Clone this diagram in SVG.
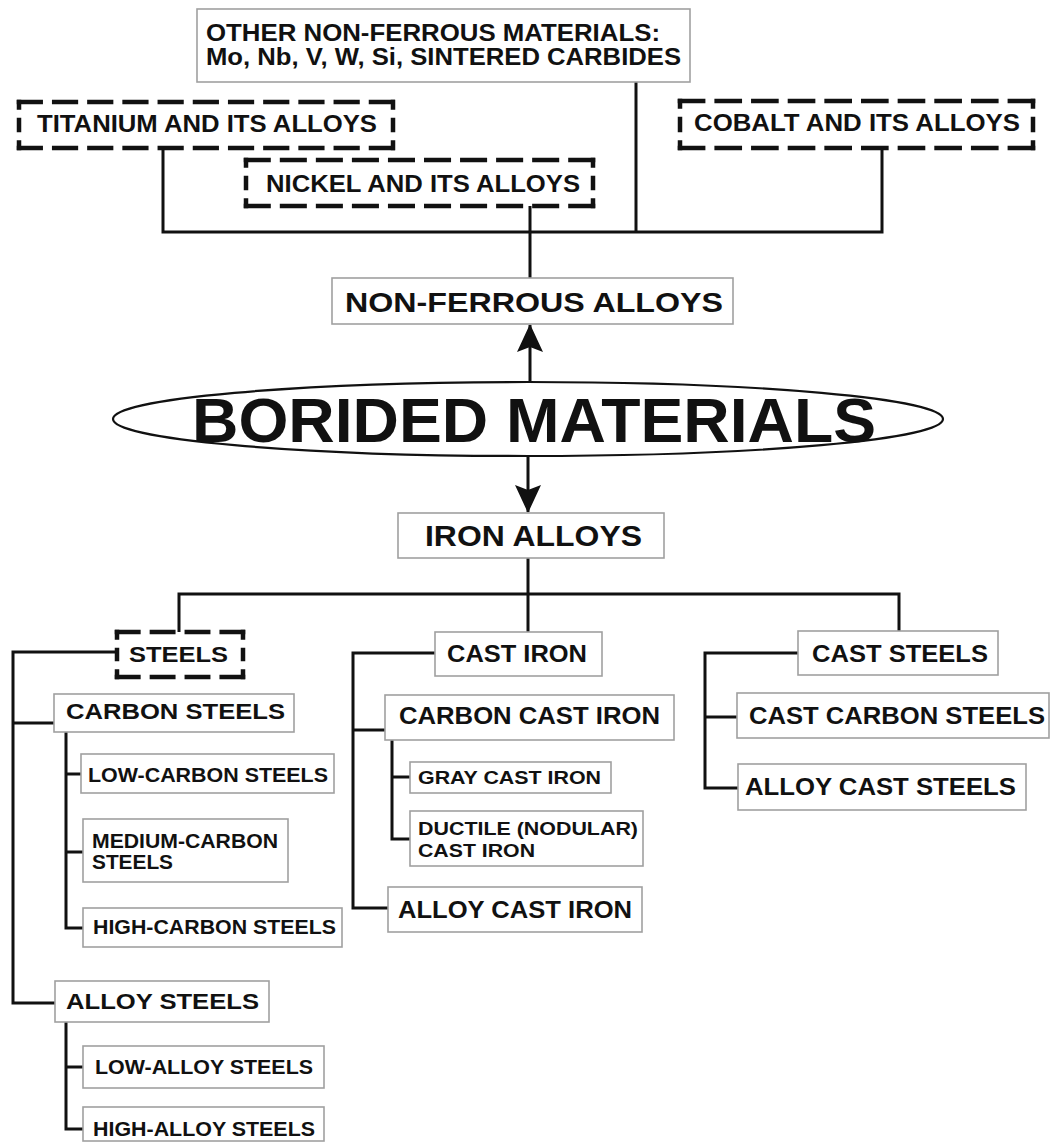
<svg xmlns="http://www.w3.org/2000/svg" width="1051" height="1144" viewBox="0 0 1051 1144">
<style>
.box{fill:#fff;stroke:#a0a0a0;stroke-width:1.6}
.dfill{fill:#fff}
.d{fill:none;stroke:#111;stroke-width:4.5;stroke-linecap:butt}
.t{font-family:"Liberation Sans",Arial,sans-serif;font-weight:bold;fill:#111}
.c{fill:none;stroke:#111;stroke-width:3}
</style>
<defs>
<marker id="ah" markerUnits="userSpaceOnUse" markerWidth="28" markerHeight="26" viewBox="0 0 28 26" refX="27" refY="13" orient="auto">
<path d="M0,0 L28,13 L0,26 L5,13 Z" fill="#111"/>
</marker>
</defs>
<rect width="1051" height="1144" fill="#fff"/>
<g id="connectors">
<path class="c" d="M163,148 V232 H882 V148"/>
<path class="c" d="M636,82 V232"/>
<path class="c" d="M530,206 V278"/>
<path class="c" d="M530,383 V325" marker-end="url(#ah)"/>
<path class="c" d="M528,455 V512" marker-end="url(#ah)"/>
<path class="c" d="M528,558 V632"/>
<path class="c" d="M179,632 V594 H899 V631"/>
<path class="c" d="M117,652 H13 V1003 H55"/>
<path class="c" d="M13,723 H54"/>
<path class="c" d="M66,732 V928 H83"/>
<path class="c" d="M66,774 H81"/>
<path class="c" d="M66,852 H83"/>
<path class="c" d="M66,1022 V1129 H83"/>
<path class="c" d="M66,1067 H83"/>
<path class="c" d="M435,653 H353 V908 H388"/>
<path class="c" d="M353,730 H385"/>
<path class="c" d="M392,740 V839 H410"/>
<path class="c" d="M392,777 H410"/>
<path class="c" d="M798,653 H705 V788 H738"/>
<path class="c" d="M705,717 H737"/>
</g>
<g id="other">
<rect class="box" x="197" y="9" width="493" height="73"/>
<text class="t" x="206" y="41" font-size="23" textLength="454" lengthAdjust="spacingAndGlyphs">OTHER NON-FERROUS MATERIALS:</text>
<text class="t" x="206" y="65" font-size="23" textLength="475" lengthAdjust="spacingAndGlyphs">Mo, Nb, V, W, Si, SINTERED CARBIDES</text>
</g>
<g id="titanium">
<rect class="dfill" x="19" y="102" width="374" height="46"/>
<path class="d" d="M16.75,102 H395.25 M16.75,148 H395.25" stroke-dasharray="26.2 9"/>
<path class="d" d="M19,99.75 V150.25 M393,99.75 V150.25" stroke-dasharray="10 8 14.5 8 10"/>
<text class="t" x="37" y="132" font-size="23" textLength="340" lengthAdjust="spacingAndGlyphs">TITANIUM AND ITS ALLOYS</text>
</g>
<g id="nickel">
<rect class="dfill" x="246" y="160" width="347" height="46"/>
<path class="d" d="M243.75,160 H595.25 M243.75,206 H595.25" stroke-dasharray="27.05 9"/>
<path class="d" d="M246,157.75 V208.25 M593,157.75 V208.25" stroke-dasharray="10 8 14.5 8 10"/>
<text class="t" x="266" y="192" font-size="23" textLength="314" lengthAdjust="spacingAndGlyphs">NICKEL AND ITS ALLOYS</text>
</g>
<g id="cobalt">
<rect class="dfill" x="680" y="101" width="353" height="47"/>
<path class="d" d="M677.75,101 H1035.25 M677.75,148 H1035.25" stroke-dasharray="27.65 9"/>
<path class="d" d="M680,98.75 V150.25 M1033,98.75 V150.25" stroke-dasharray="10 8 15.5 8 10"/>
<text class="t" x="694" y="131" font-size="23" textLength="326" lengthAdjust="spacingAndGlyphs">COBALT AND ITS ALLOYS</text>
</g>
<g id="nonferrous">
<rect class="box" x="332" y="278" width="401" height="46"/>
<text class="t" x="345" y="312" font-size="28" textLength="378" lengthAdjust="spacingAndGlyphs">NON-FERROUS ALLOYS</text>
</g>
<g id="borided">
<ellipse cx="528" cy="419" rx="415" ry="37" fill="#fff" stroke="#111" stroke-width="2.2"/>
<text class="t" x="192" y="442" font-size="63" textLength="684" lengthAdjust="spacingAndGlyphs">BORIDED MATERIALS</text>
</g>
<g id="iron">
<rect class="box" x="398" y="513" width="266" height="45"/>
<text class="t" x="425" y="546" font-size="29" textLength="217" lengthAdjust="spacingAndGlyphs">IRON ALLOYS</text>
</g>
<g id="steels">
<rect class="dfill" x="117" y="632" width="126" height="45"/>
<path class="d" d="M114.75,632 H245.25 M114.75,677 H245.25" stroke-dasharray="25.9 9"/>
<path class="d" d="M117,629.75 V679.25 M243,629.75 V679.25" stroke-dasharray="10 8 13.5 8 10"/>
<text class="t" x="129" y="662" font-size="22" textLength="99" lengthAdjust="spacingAndGlyphs">STEELS</text>
</g>
<g id="carbonsteels">
<rect class="box" x="54" y="694" width="240" height="38"/>
<text class="t" x="66" y="719" font-size="22" textLength="219" lengthAdjust="spacingAndGlyphs">CARBON STEELS</text>
</g>
<g id="lowcarbon">
<rect class="box" x="81" y="754" width="253" height="39"/>
<text class="t" x="88" y="782" font-size="20" textLength="240" lengthAdjust="spacingAndGlyphs">LOW-CARBON STEELS</text>
</g>
<g id="mediumcarbon">
<rect class="box" x="83" y="819" width="205" height="63"/>
<text class="t" x="92" y="848" font-size="20" textLength="186" lengthAdjust="spacingAndGlyphs">MEDIUM-CARBON</text>
<text class="t" x="92" y="869" font-size="20" textLength="81" lengthAdjust="spacingAndGlyphs">STEELS</text>
</g>
<g id="highcarbon">
<rect class="box" x="83" y="908" width="259" height="39"/>
<text class="t" x="93" y="934" font-size="20" textLength="243" lengthAdjust="spacingAndGlyphs">HIGH-CARBON STEELS</text>
</g>
<g id="alloysteels">
<rect class="box" x="55" y="981" width="214" height="41"/>
<text class="t" x="66" y="1009" font-size="22" textLength="193" lengthAdjust="spacingAndGlyphs">ALLOY STEELS</text>
</g>
<g id="lowalloy">
<rect class="box" x="83" y="1046" width="241" height="42"/>
<text class="t" x="95" y="1074" font-size="20" textLength="218" lengthAdjust="spacingAndGlyphs">LOW-ALLOY STEELS</text>
</g>
<g id="highalloy">
<rect class="box" x="83" y="1107" width="241" height="34"/>
<text class="t" x="93" y="1136" font-size="20" textLength="222" lengthAdjust="spacingAndGlyphs">HIGH-ALLOY STEELS</text>
</g>
<g id="castiron">
<rect class="box" x="435" y="632" width="167" height="44"/>
<text class="t" x="447" y="662" font-size="23" textLength="140" lengthAdjust="spacingAndGlyphs">CAST IRON</text>
</g>
<g id="carboncastiron">
<rect class="box" x="385" y="695" width="289" height="45"/>
<text class="t" x="399" y="724" font-size="23" textLength="261" lengthAdjust="spacingAndGlyphs">CARBON CAST IRON</text>
</g>
<g id="graycastiron">
<rect class="box" x="410" y="762" width="201" height="31"/>
<text class="t" x="418" y="784" font-size="18" textLength="183" lengthAdjust="spacingAndGlyphs">GRAY CAST IRON</text>
</g>
<g id="ductile">
<rect class="box" x="410" y="811" width="233" height="55"/>
<text class="t" x="418" y="835" font-size="18" textLength="220" lengthAdjust="spacingAndGlyphs">DUCTILE (NODULAR)</text>
<text class="t" x="418" y="857" font-size="18" textLength="117" lengthAdjust="spacingAndGlyphs">CAST IRON</text>
</g>
<g id="alloycastiron">
<rect class="box" x="388" y="887" width="254" height="45"/>
<text class="t" x="398" y="918" font-size="23" textLength="234" lengthAdjust="spacingAndGlyphs">ALLOY CAST IRON</text>
</g>
<g id="caststeels">
<rect class="box" x="798" y="631" width="200" height="44"/>
<text class="t" x="812" y="662" font-size="23" textLength="176" lengthAdjust="spacingAndGlyphs">CAST STEELS</text>
</g>
<g id="castcarbonsteels">
<rect class="box" x="737" y="693" width="312" height="45"/>
<text class="t" x="749" y="724" font-size="23" textLength="296" lengthAdjust="spacingAndGlyphs">CAST CARBON STEELS</text>
</g>
<g id="alloycaststeels">
<rect class="box" x="738" y="764" width="288" height="46"/>
<text class="t" x="745" y="795" font-size="23" textLength="271" lengthAdjust="spacingAndGlyphs">ALLOY CAST STEELS</text>
</g>
</svg>
